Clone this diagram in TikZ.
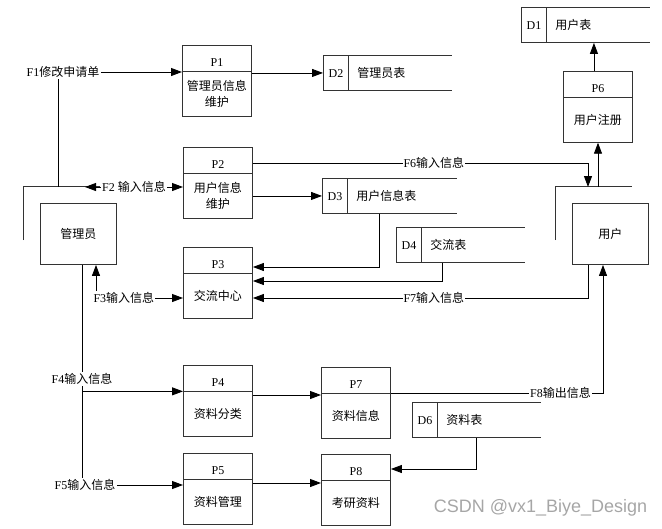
\documentclass[tikz,border=0pt]{standalone}
\usepackage{fontspec}
\setmainfont{Liberation Serif}
\setsansfont{Liberation Sans}
\newfontfamily\cjk{Noto Sans CJK SC}
\usetikzlibrary{arrows.meta,shapes.multipart}

\newcommand{\phead}[1]{\parbox[c][25pt][b]{69pt}{\centering #1\par\vspace{4pt}}}
\newcommand{\pbody}[1]{\parbox[c][44pt][c]{69pt}{\centering\cjk #1}}
\newcommand{\dname}[2]{\makebox[25pt]{#1}\hspace{9pt}{\cjk #2}}

\begin{document}
\begin{tikzpicture}[
  x=1pt, y=-1pt, line width=0.9pt,
  >={Triangle[length=11pt,width=8pt]},
  every node/.style={font=\fontsize{12}{15.5}\selectfont},
  proc/.style={rectangle split, rectangle split parts=2, draw=black!80, inner sep=0pt, anchor=north west},
  store/.style={anchor=north west, minimum height=35pt, text width=128pt, inner sep=0pt, align=left,
    append after command={\pgfextra{
      \draw[black!80] (\tikzlastnode.north east) -- (\tikzlastnode.north west) -- (\tikzlastnode.south west) -- (\tikzlastnode.south east);
      \draw[black!80] ([xshift=25pt]\tikzlastnode.north west) -- ([xshift=25pt]\tikzlastnode.south west);}}},
  ext/.style={draw=black!80, anchor=north west, minimum width=76pt, minimum height=61pt, inner sep=0pt,
    append after command={\pgfextra{
      \draw[black!80] ([shift={(-17pt,-37pt)}]\tikzlastnode.north west) |- ([shift={(60pt,17pt)}]\tikzlastnode.north west);}}},
  lbl/.style={fill=white, inner sep=1pt},
  arrow/.style={->}
]
\useasboundingbox (0,0) rectangle (662,528);

\node[proc] (p1) at (182,45) {\phead{P1}\nodepart{two}\pbody{管理员信息\\维护}};
\node[proc] (p2) at (183,147) {\phead{P2}\nodepart{two}\pbody{用户信息\\维护}};
\node[proc] (p3) at (183,247) {\phead{P3}\nodepart{two}\pbody{交流中心}};
\node[proc] (p4) at (183,365) {\phead{P4}\nodepart{two}\pbody{资料分类}};
\node[proc] (p5) at (183,453) {\phead{P5}\nodepart{two}\pbody{资料管理}};
\node[proc] (p6) at (563,71) {\phead{P6}\nodepart{two}\pbody{用户注册}};
\node[proc] (p7) at (321,367) {\phead{P7}\nodepart{two}\pbody{资料信息}};
\node[proc] (p8) at (321,454) {\phead{P8}\nodepart{two}\pbody{考研资料}};

\node[store] (d1) at (521,7) {\dname{D1}{用户表}};
\node[store] (d2) at (323,55) {\dname{D2}{管理员表}};
\node[store, text width=134pt] (d3) at (322,178) {\dname{D3}{用户信息表}};
\node[store] (d4) at (396,227) {\dname{D4}{交流表}};
\node[store] (d6) at (412,402) {\dname{D6}{资料表}};

\node[ext] (admin) at (40,203) {\cjk 管理员};
\node[ext] (user) at (572,203) {\cjk 用户};

\coordinate (a1) at (58,187);
\coordinate (a2) at (85,187);
\coordinate (a4) at ([xshift=42pt]admin.south west);
\coordinate (u1) at (588,187);
\coordinate (u2) at (598,187);
\coordinate (p6o) at ([xshift=-4pt]p6.north);
\coordinate (p4o) at ([yshift=-30pt]p4.north east);
\coordinate (p5o) at ([yshift=-30pt]p5.north east);

\node[lbl] (f1) at (63,72) {F1{\cjk 修改申请单}};
\node[lbl] (f5) at (85,485) {F5{\cjk 输入信息}};

\draw (a1) -- (a1 |- f1.south);
\draw[arrow] (f1.east) -- (f1.east -| p1.west);
\draw[arrow] (p1.east |- d2.west) -- (d2.west);
\draw[<->] (a2) -- (a2 -| p2.west) node[lbl, midway] {F2 {\cjk 输入信息}};
\draw[arrow] (p2.east |- d3.west) -- (d3.west);
\draw[arrow] ([yshift=-16pt]p2.north east) -| (u1) node[lbl, pos=0.27] {F6{\cjk 输入信息}};
\draw[arrow] (u2) -- (u2 |- p6.south);
\draw[arrow] (p6o) -- (p6o |- d1.south);
\draw[arrow] ([xshift=57pt]d3.south west) |- ([yshift=-20pt]p3.north east);
\draw[arrow] ([xshift=46pt]d4.south west) |- ([yshift=-34pt]p3.north east);
\draw[arrow] ([xshift=16pt]user.south west) |- ([yshift=-51pt]p3.north east) node[lbl, pos=0.73] {F7{\cjk 输入信息}};
\draw[<->] ([xshift=56pt]admin.south west) |- ([yshift=-51pt]p3.north west) node[lbl, pos=0.66] {F3{\cjk 输入信息}};
\draw (a4) -- (a4 |- f5.north);
\node[lbl] (f4) at (82,379) {F4{\cjk 输入信息}};
\draw[arrow] (a4 |- p4.one split west) -- (p4.one split west);
\draw[arrow] (f5.east) -- (f5.east -| p5.west);
\draw[arrow] (p4o) -- (p4o -| p7.west);
\draw[arrow] (p5o) -- (p5o -| p8.west);
\draw[arrow] (p7.one split east) -| ([xshift=31pt]user.south west) node[lbl, pos=0.4] {F8{\cjk 输出信息}};
\draw[arrow] ([xshift=64pt]d6.south west) |- ([yshift=-15pt]p8.north east);

\node[anchor=west, text=black!35, font=\sffamily\fontsize{18}{18}\selectfont] (mark) at (430,508) {CSDN @vx1\_Biye\_Design};
\end{tikzpicture}
\end{document}
